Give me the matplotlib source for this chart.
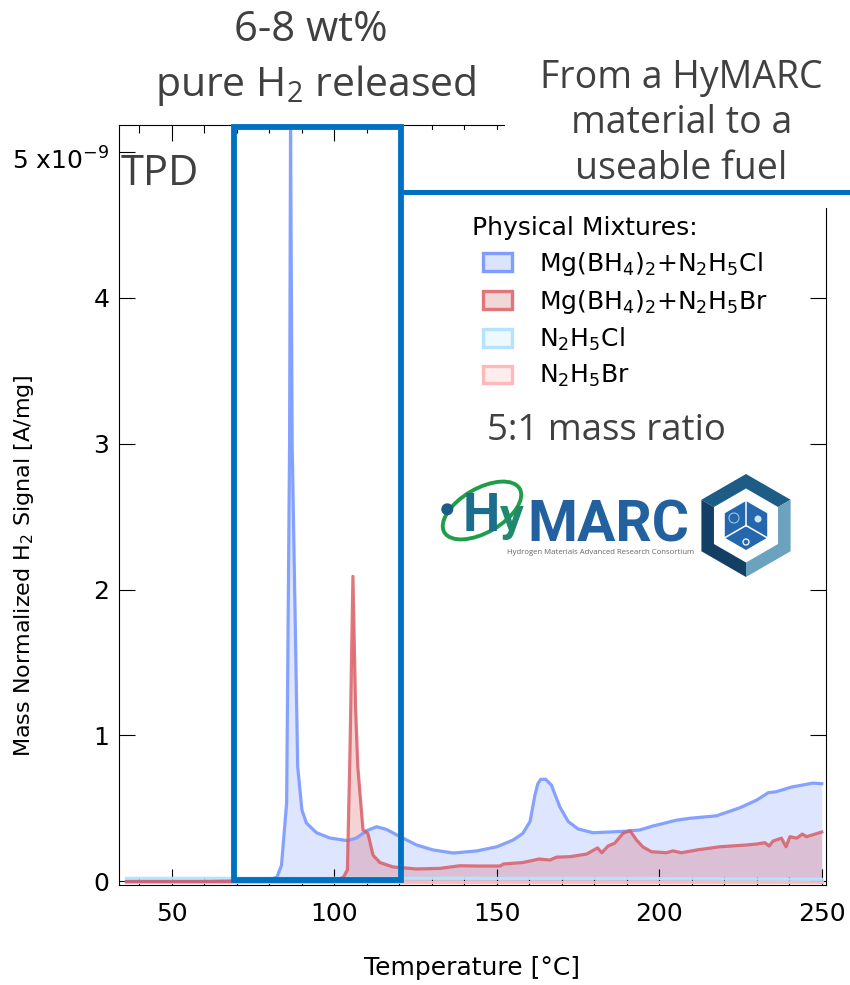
import numpy as np
import matplotlib
matplotlib.use('Agg')
import matplotlib.pyplot as plt
from matplotlib.patches import Patch, Polygon, Rectangle, Ellipse, Circle
from matplotlib.transforms import ScaledTranslation

# curves
temp_cl = [36, 60, 80, 82.3, 83.7, 85.3, 86.2, 86.5, 87, 88.7, 90, 91.4, 94.5, 98.6, 104, 106.8, 109.9, 113, 116,
           120.2, 125.3, 130.4, 136.6, 143.7, 150, 155, 158, 160.2, 161.7, 162.6, 163.5, 165, 166.8, 168, 169.4, 172,
           175, 179.6, 183.7, 190, 194, 198, 205.3, 209.4, 217.6, 224.8, 230, 233.5, 236, 240.7, 247.3, 250]
mix_cl = [0.0, 0.0, 0.01, 0.03, 0.11, 0.54, 3.0, 5.18, 3.0, 0.786, 0.49, 0.40, 0.334, 0.298, 0.28, 0.298, 0.348,
          0.375, 0.357, 0.307, 0.25, 0.216, 0.195, 0.209, 0.238, 0.284, 0.33, 0.41, 0.59, 0.67, 0.70, 0.70, 0.66,
          0.59, 0.51, 0.41, 0.36, 0.334, 0.338, 0.345, 0.353, 0.38, 0.42, 0.433, 0.45, 0.505, 0.558, 0.608, 0.615,
          0.647, 0.674, 0.67]

temp_br = [36, 70, 100, 102.8, 104, 104.8, 105.7, 106.5, 107.2, 108.8, 110.3, 111.9, 114, 118, 125.3, 132.5, 138.6,
           144.8, 151, 152, 158, 163, 166.3, 168.4, 172.5, 177.6, 181, 182.3, 184.2, 186.3, 188.8, 191, 193, 195,
           197.6, 202.2, 204.2, 206.8, 211.5, 218.6, 226.8, 230, 232.5, 233.8, 235, 237.6, 239, 240.2, 242.3, 244,
           245.3, 250]
mix_br = [0.0, 0.0, 0.0, 0.03, 0.08, 0.9, 2.09, 1.2, 0.786, 0.353, 0.33, 0.18, 0.13, 0.10, 0.086, 0.09, 0.108,
          0.106, 0.106, 0.12, 0.13, 0.154, 0.147, 0.167, 0.17, 0.188, 0.23, 0.197, 0.243, 0.263, 0.33, 0.348, 0.284,
          0.236, 0.204, 0.197, 0.21, 0.197, 0.216, 0.238, 0.25, 0.257, 0.266, 0.243, 0.277, 0.297, 0.238, 0.307,
          0.297, 0.325, 0.307, 0.339]

temp_pure = [36, 120, 200, 250]
pure_cl = [0.022, 0.022, 0.02, 0.015]
pure_br = [-0.005, -0.005, -0.005, -0.005]

labels = [r'$\mathdefault{Mg(BH_4)_2{+}N_2H_5Cl}$', r'$\mathdefault{Mg(BH_4)_2{+}N_2H_5Br}$',
          r'$\mathdefault{N_2H_5Cl}$', r'$\mathdefault{N_2H_5Br}$']
line_cols = ['#7f9dff', '#d9565f', '#b5e3ff', '#ffb9b9']
legend_edges = ['#7f9dff', '#e0757a', '#b5e3ff', '#ffb9b9']
fill_cols = ['#dbe4fd', '#f3d6d8', '#eef8ff', '#ffeded']

W, H = 850, 985
SLIDE = 'Open Sans'
DARK = '#404040'
BLUE = '#0070c0'

fig = plt.figure(figsize=(W / 100, H / 100), dpi=100)
ax = fig.add_axes([119 / W, 1 - 885 / H, (826 - 119) / W, (885 - 124.5) / H])

order = [(temp_pure, pure_cl, 2, 0.95), (temp_pure, pure_br, 3, 0.95), (temp_cl, mix_cl, 0, 0.95),
         (temp_br, mix_br, 1, 0.8)]
for x, y, i, a in order:
    ax.fill_between(x, 0, y, color=line_cols[i], alpha=0.26, lw=0)
    ax.plot(x, y, color=line_cols[i], lw=2.3, alpha=a, solid_joinstyle='round')

ax.set_xlim(33.7, 251.3)
ax.set_ylim(-0.024, 5.185)
ax.set_xticks([50, 100, 150, 200, 250])
ax.set_xticks(np.arange(40, 251, 10), minor=True)
ax.set_yticks([0, 1, 2, 3, 4, 5])
ax.set_yticklabels(['0', '1', '2', '3', '4', r'5 x10$^{\mathdefault{-9}}$'])
ax.tick_params(axis='both', which='major', direction='in', top=True, right=True, length=11.5, width=0.8,
               labelsize=18, pad=7)
ax.tick_params(axis='x', which='major', pad=12)
ax.tick_params(axis='x', which='minor', direction='in', top=True, length=5.5, width=0.8)
ax.spines['top'].set_bounds(33.7, 152.5)
ax.spines['right'].set_bounds(-0.024, 4.61)
ax.set_xlabel('Temperature [°C]', fontsize=18)
ax.set_ylabel('Mass Normalized H$_2$ Signal [A/mg]', fontsize=16)
ax.xaxis.set_label_coords((472 - 119) / 707, -(968 - 885) / 760.5, transform=ax.transAxes)
ax.yaxis.set_label_coords((24 - 119) / 707, (885 - 566) / 760.5, transform=ax.transAxes)
ax.xaxis.label.set_va('center')
ax.yaxis.label.set_va('center')
top_label = ax.get_yticklabels()[-1]
top_label.set_transform(top_label.get_transform() + ScaledTranslation(0, -0.07, fig.dpi_scale_trans))

# slide overlay in pixel coordinates
ov = fig.add_axes([0, 0, 1, 1], zorder=5)
ov.set_xlim(0, W)
ov.set_ylim(H, 0)
ov.axis('off')
ov.patch.set_alpha(0)
ov.add_patch(Rectangle((505, 0), W - 505, 207, fc='white', ec='none'))
ov.add_patch(Rectangle((404, 130), 110, 77, fc='white', ec='none'))
ov.add_patch(Rectangle((234, 127), 167, 753, fc='none', ec=BLUE, lw=4.2, joinstyle='miter'))
ov.plot([401, W], [191.5, 191.5], color=BLUE, lw=3.6, solid_capstyle='butt')

ov.text(311, 30, '6-8 wt%', ha='center', va='center', fontsize=30, color=DARK, family=SLIDE)
ov.text(316, 85, r'pure H$_\mathdefault{2}$ released', ha='center', va='center', fontsize=29.5, color=DARK, family=SLIDE)
ov.text(681.5, 78, 'From a HyMARC', ha='center', va='center', fontsize=27, color=DARK, family=SLIDE)
ov.text(681.5, 123, 'material to a', ha='center', va='center', fontsize=27, color=DARK, family=SLIDE)
ov.text(681.5, 169, 'useable fuel', ha='center', va='center', fontsize=27, color=DARK, family=SLIDE)
ov.text(121, 174, 'TPD', ha='left', va='center', fontsize=30, color=DARK, family=SLIDE)
ov.text(472, 228, 'Physical Mixtures:', ha='left', va='center', fontsize=18, color='black')
ov.text(487, 431, '5:1 mass ratio', ha='left', va='center', fontsize=26.4, color=DARK, family=SLIDE)

handles = [Patch(facecolor=fill_cols[i], edgecolor=legend_edges[i], lw=2.4, label=labels[i]) for i in range(4)]
ov.legend(handles=handles, loc='upper left', bbox_to_anchor=(483 / W, 1 - 250 / H), bbox_transform=fig.transFigure,
          frameon=False, fontsize=18, handlelength=1.15, handleheight=0.72, handletextpad=1.1, labelspacing=0.4,
          borderpad=0, borderaxespad=0)

# logo
ov.add_patch(Ellipse((482, 510.5), 87, 44, angle=-30, fc='none', ec='#1f9e4a', lw=2.8))
ov.add_patch(Circle((447.3, 509.3), 6, fc='#1d5c85', ec='none'))
ov.text(463, 531, 'H', ha='left', va='baseline', fontsize=38, color='#1c6f8c', family='Roboto', weight='bold')
ov.text(500, 531, 'y', ha='left', va='baseline', fontsize=34, color='#1f8a6c', family='Roboto', weight='bold')
ov.text(527, 542, 'MARC', ha='left', va='baseline', fontsize=41, color='#22609f', family='Roboto', weight='bold')
ov.text(507, 552, 'Hydrogen Materials Advanced Research Consortium', ha='left', va='center', fontsize=5.6,
        color='#666666', family='Open Sans')


def hexagon(cx, cy, r):
    ang = np.radians([90, 30, -30, -90, -150, 150])
    return np.column_stack([cx + r * np.cos(ang), cy - r * np.sin(ang)])


c = np.array([746, 525.5])
outer = hexagon(c[0], c[1], 51.5)
ov.add_patch(Polygon(np.vstack([c, outer[[5, 0, 1]]]), fc='#1d5c85', ec='none'))
ov.add_patch(Polygon(np.vstack([c, outer[[1, 2, 3]]]), fc='#6ba3bf', ec='none'))
ov.add_patch(Polygon(np.vstack([c, outer[[3, 4, 5]]]), fc='#123f63', ec='none'))
ov.add_patch(Polygon(hexagon(c[0], c[1], 37), fc='white', ec='none'))
inner = hexagon(c[0], c[1], 24.5)
ov.add_patch(Polygon(inner, fc='#2567ad', ec='none'))
for k in [0, 2, 4]:
    ov.plot([c[0], inner[k][0]], [c[1], inner[k][1]], color='white', lw=1.1)
ov.add_patch(Circle((746, 542), 3, fc='none', ec='white', lw=0.9))
ov.add_patch(Circle((758, 519), 3.5, fc='#cfe3f3', ec='none'))
ov.add_patch(Circle((734, 518), 5, fc='none', ec='#9cc4e4', lw=0.8))

fig.savefig('out.png', dpi=100)
